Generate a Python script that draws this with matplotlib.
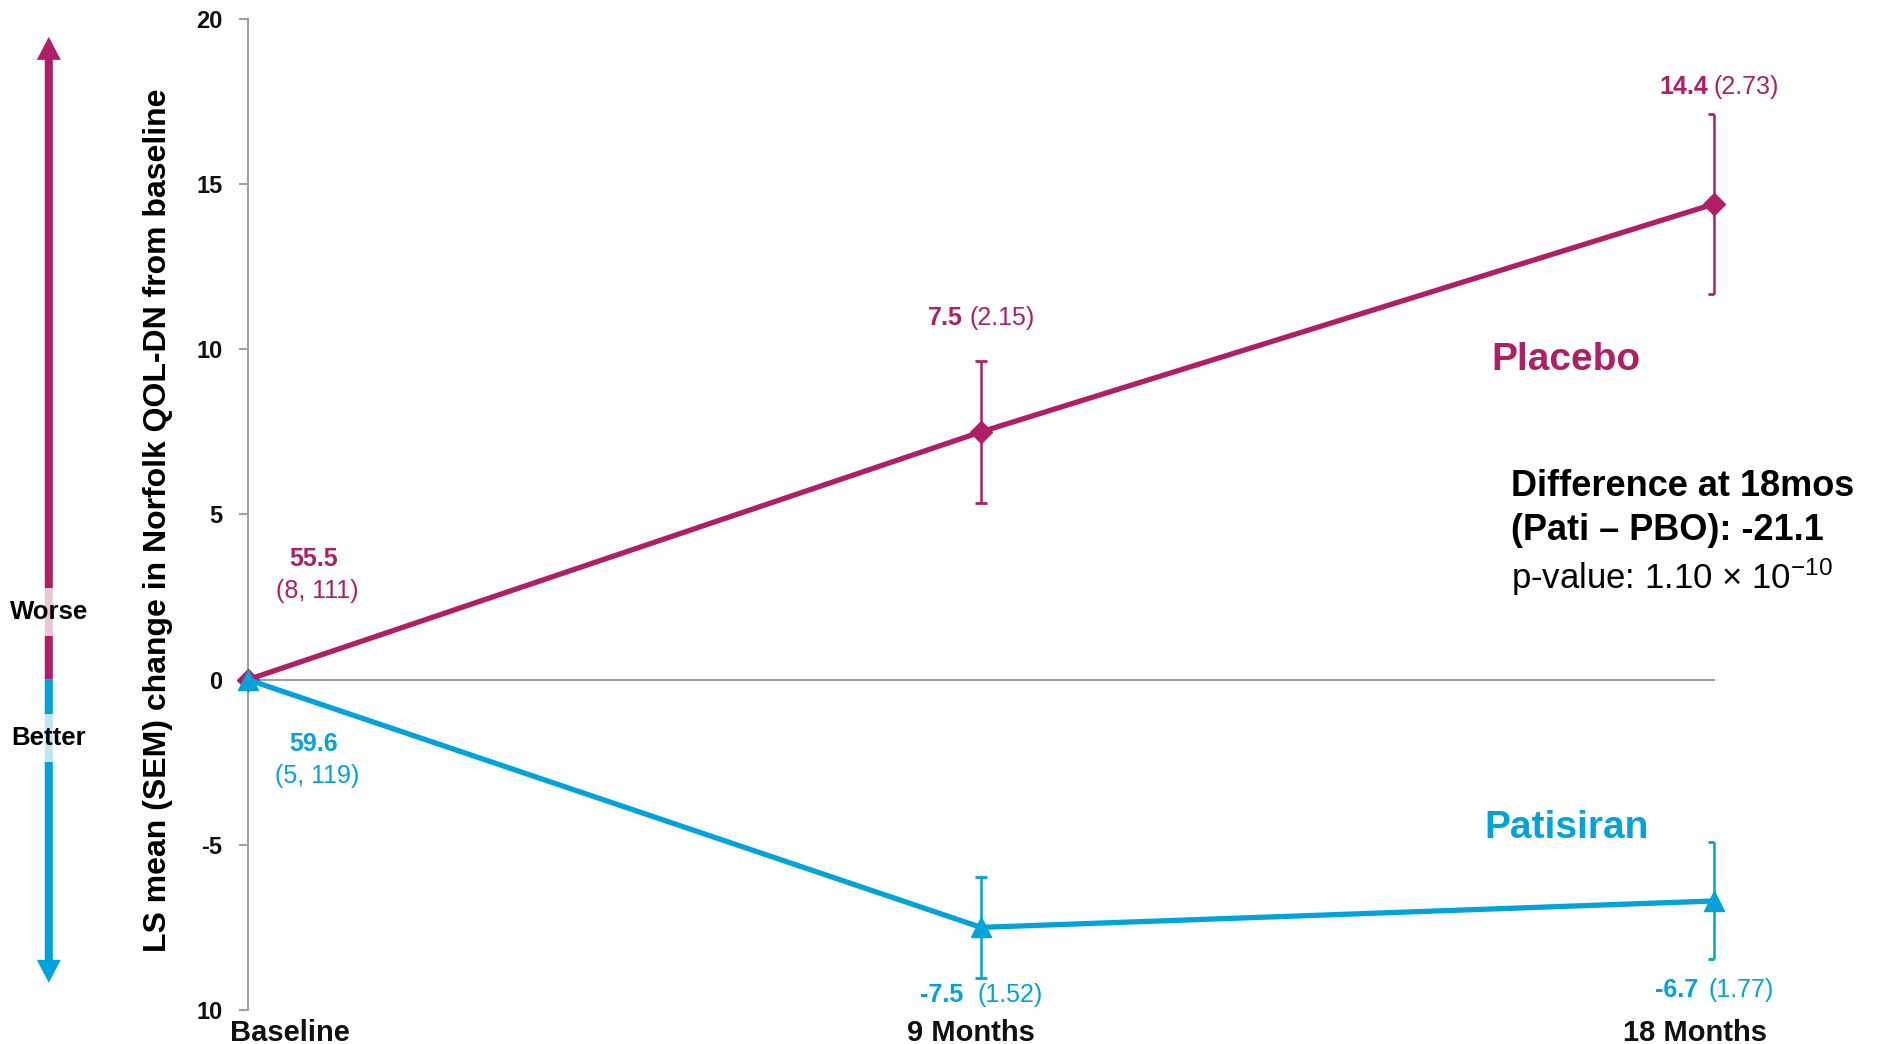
import matplotlib
matplotlib.use("Agg")
import matplotlib.pyplot as plt
import matplotlib.transforms as mtransforms
from matplotlib.path import Path

plt.rcParams["font.family"] = ["Liberation Sans", "DejaVu Sans"]
plt.rcParams["mathtext.fontset"] = "custom"
plt.rcParams["mathtext.rm"] = "Liberation Sans"
plt.rcParams["mathtext.bf"] = "Liberation Sans:bold"
plt.rcParams["mathtext.default"] = "regular"

# ---- data -----------------------------------------------------------------
months = [0, 9, 18]
x_labels = ["Baseline", "9 Months", "18 Months"]

placebo_mean = [0.0, 7.5, 14.4]
placebo_sem = [0.0, 2.15, 2.73]
patisiran_mean = [0.0, -7.5, -6.7]
patisiran_sem = [0.0, 1.52, 1.77]

placebo_baseline = "55.5"
placebo_baseline_range = "(8, 111)"
patisiran_baseline = "59.6"
patisiran_baseline_range = "(5, 119)"

y_ticks = [20, 15, 10, 5, 0, -5, -10]
y_tick_labels = ["20", "15", "10", "5", "0", "-5", "10"]

# ---- styling --------------------------------------------------------------
MAGENTA = "#B01F66"
BLUE = "#00A3DA"
GREY = "#A0A0A0"

fig = plt.figure(figsize=(18.77, 10.44), dpi=100)
ax = fig.add_axes([0.1321, 0.0326, 0.8679, 0.9492])
ax.set_xlim(0, 20)
ax.set_ylim(-10, 20)

for side in ["top", "right", "bottom"]:
    ax.spines[side].set_visible(False)
ax.spines["left"].set_color(GREY)
ax.spines["left"].set_linewidth(1.5)

ax.set_yticks(y_ticks, y_tick_labels)
ax.tick_params(axis="y", direction="out", length=6.5, width=1.5, color=GREY,
               pad=12, labelsize=17, labelcolor="#111111")
for lab in ax.get_yticklabels():
    lab.set_fontweight("bold")

ax.set_xticks(months, x_labels)
ax.tick_params(axis="x", length=0, pad=1, labelsize=21, labelcolor="#111111")
label_shift = [(-18, "left"), (-10, "center"), (-19, "center")]
for lab, (dx, ha) in zip(ax.get_xticklabels(), label_shift):
    lab.set_fontweight("bold")
    lab.set_ha(ha)
    lab.set_transform(lab.get_transform()
                      + mtransforms.ScaledTranslation(dx / 100, -0.08, fig.dpi_scale_trans))

ax.set_ylabel("LS mean (SEM) change in Norfolk QOL-DN from baseline",
              fontsize=23, fontweight="bold")
ax.yaxis.set_label_coords(-0.046, 0.494)

# zero reference line
ax.plot([months[0], months[-1]], [0, 0], color=GREY, lw=1.5, zorder=1)

# half cap used at the final visit
half_cap = Path([(-1, 0), (0, 0)], [Path.MOVETO, Path.LINETO])


def draw_series(mean, sem, color, marker, ms):
    ax.plot(months, mean, color=color, lw=3.8, marker=marker, ms=ms,
            clip_on=False, zorder=4)
    ax.errorbar(months[1:], mean[1:], yerr=sem[1:], fmt="none",
                ecolor=color, elinewidth=1.8, capsize=0, zorder=3)
    lo = [m - s for m, s in zip(mean, sem)]
    hi = [m + s for m, s in zip(mean, sem)]
    ax.plot([months[1]] * 2, [lo[1], hi[1]], ls="none", marker="_", ms=8,
            mew=2, color=color, zorder=3)
    ax.plot([months[2]] * 2, [lo[2], hi[2]], ls="none", marker=half_cap, ms=9,
            mew=2, color=color, zorder=3)


draw_series(placebo_mean, placebo_sem, MAGENTA, "D", 11)
draw_series(patisiran_mean, patisiran_sem, BLUE, "^", 14)


def value_label(i, mean, sem, color, dx, dy, gap):
    bold = ax.annotate(f"{mean[i]:.1f}", xy=(months[i], mean[i]),
                       xytext=(dx, dy), textcoords="offset pixels",
                       ha="right", va="center", fontsize=18,
                       fontweight="bold", color=color)
    ax.annotate(f"({sem[i]:.2f})", xy=(1, 0.5), xycoords=bold,
                xytext=(gap, 0), textcoords="offset pixels",
                ha="left", va="center", fontsize=18, color=color)


value_label(1, placebo_mean, placebo_sem, MAGENTA, -18, 114, 6)
value_label(2, placebo_mean, placebo_sem, MAGENTA, -6, 117, 5)
value_label(1, patisiran_mean, patisiran_sem, BLUE, -18, -68, 14)
value_label(2, patisiran_mean, patisiran_sem, BLUE, -16, -89, 10)

# baseline scores
ax.annotate(placebo_baseline, xy=(months[0], placebo_mean[0]), xytext=(66, 121),
            textcoords="offset pixels", ha="center", va="center",
            fontsize=18, fontweight="bold", color=MAGENTA)
ax.annotate(placebo_baseline_range, xy=(months[0], placebo_mean[0]), xytext=(69, 89),
            textcoords="offset pixels", ha="center", va="center",
            fontsize=18, color=MAGENTA)
ax.annotate(patisiran_baseline, xy=(months[0], patisiran_mean[0]), xytext=(66, -64),
            textcoords="offset pixels", ha="center", va="center",
            fontsize=18, fontweight="bold", color=BLUE)
ax.annotate(patisiran_baseline_range, xy=(months[0], patisiran_mean[0]), xytext=(69, -96),
            textcoords="offset pixels", ha="center", va="center",
            fontsize=18, color=BLUE)

# series names
ax.text(16.18, 9.68, "Placebo", ha="center", va="center", fontsize=28,
        fontweight="bold", color=MAGENTA)
ax.text(16.19, -4.49, "Patisiran", ha="center", va="center", fontsize=28,
        fontweight="bold", color=BLUE)

# treatment difference
ax.text(15.51, 5.86, "Difference at 18mos", ha="left", va="center",
        fontsize=26, fontweight="bold", color="black")
ax.text(15.51, 4.50, "(Pati \u2013 PBO): -21.1", ha="left", va="center",
        fontsize=26, fontweight="bold", color="black")
ax.text(15.51, 3.11, "p-value: 1.10 \u00d7 10$^{-10}$", ha="left", va="center",
        fontsize=25, color="black")

# worse / better direction arrow
ARROW_X = 0.026
style = "simple,head_length=1.66,head_width=1.73,tail_width=0.58"
ax.annotate("", xy=(ARROW_X, 19.46), xycoords=("figure fraction", "data"),
            xytext=(ARROW_X, 0), textcoords=("figure fraction", "data"),
            arrowprops=dict(arrowstyle=style, mutation_scale=10, color=MAGENTA,
                            shrinkA=0, shrinkB=0, lw=0),
            annotation_clip=False)
ax.annotate("", xy=(ARROW_X, -9.18), xycoords=("figure fraction", "data"),
            xytext=(ARROW_X, 0), textcoords=("figure fraction", "data"),
            arrowprops=dict(arrowstyle=style, mutation_scale=10, color=BLUE,
                            shrinkA=0, shrinkB=0, lw=0),
            annotation_clip=False)

box = dict(boxstyle="square,pad=0.45", fc="white", ec="none", alpha=0.75)
fig.text(ARROW_X, 1 - 612 / 1044, "Worse", ha="center", va="center",
         fontsize=18.5, fontweight="bold", color="black", bbox=box, zorder=5)
fig.text(ARROW_X, 1 - 738 / 1044, "Better", ha="center", va="center",
         fontsize=18.5, fontweight="bold", color="black", bbox=box, zorder=5)

fig.savefig("out.png", dpi=100)
